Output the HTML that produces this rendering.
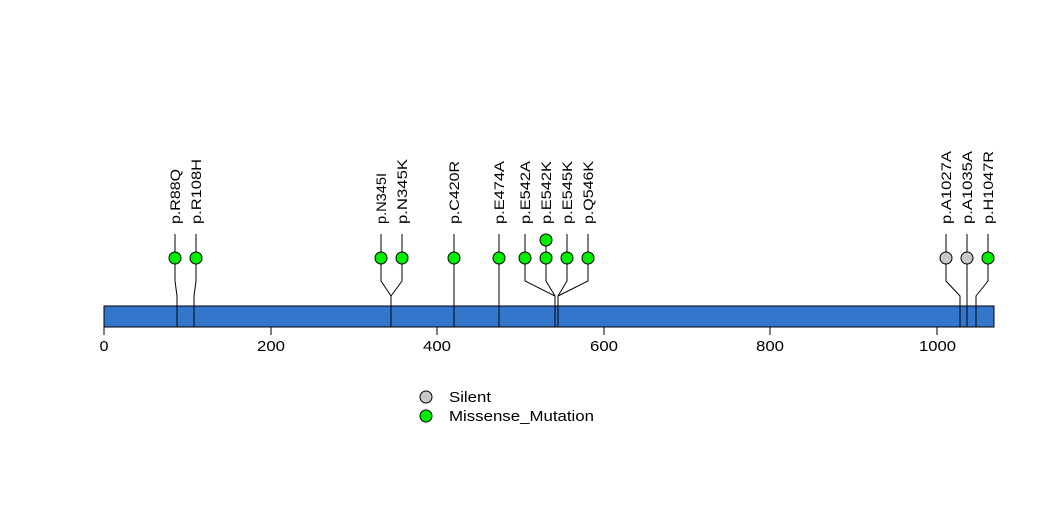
<!DOCTYPE html>
<html><head><style>body{margin:0;background:#fff}</style></head><body>
<svg width="1047" height="524" xmlns="http://www.w3.org/2000/svg" font-family="Liberation Sans, sans-serif">
<rect x="104" y="306" width="890" height="21" fill="#3377cc" stroke="#000" stroke-width="1"/>
<g stroke="#000" stroke-width="1" fill="none">
<line x1="104" y1="327" x2="937" y2="327"/>
<line x1="104" y1="327" x2="104" y2="335"/><line x1="271" y1="327" x2="271" y2="335"/><line x1="437" y1="327" x2="437" y2="335"/><line x1="604" y1="327" x2="604" y2="335"/><line x1="770" y1="327" x2="770" y2="335"/><line x1="937" y1="327" x2="937" y2="335"/>
<polyline points="175,234 175,281 177,296 177,327"/>
<polyline points="196,234 196,281 194,296 194,327"/>
<polyline points="381,234 381,281 391,296 391,327"/>
<polyline points="402,234 402,281 391,296"/>
<polyline points="454,234 454,327"/>
<polyline points="499,234 499,327"/>
<polyline points="525,234 525,281 555,296 555,327"/>
<polyline points="546,234 546,281 555,296"/>
<polyline points="567,234 567,281 558,296 558,327"/>
<polyline points="588,234 588,281 558,296"/>
<polyline points="946,234 946,281 960,296 960,327"/>
<polyline points="967,234 967,327"/>
<polyline points="988,234 988,281 976,296 976,327"/>
</g>
<g stroke="#000" stroke-width="1" fill="#00ee00">
<circle cx="175" cy="258" r="6"/><circle cx="196" cy="258" r="6"/><circle cx="381" cy="258" r="6"/><circle cx="402" cy="258" r="6"/><circle cx="454" cy="258" r="6"/><circle cx="499" cy="258" r="6"/><circle cx="525" cy="258" r="6"/><circle cx="546" cy="258" r="6"/><circle cx="546" cy="240" r="6"/><circle cx="567" cy="258" r="6"/><circle cx="588" cy="258" r="6"/><circle cx="988" cy="258" r="6"/>
<circle cx="946" cy="258" r="6" fill="#c8c8c8"/><circle cx="967" cy="258" r="6" fill="#c8c8c8"/>
<circle cx="426" cy="397" r="6" fill="#c8c8c8"/><circle cx="426" cy="416" r="6"/>
</g>
<g font-size="14" fill="#000" lengthAdjust="spacingAndGlyphs">
<text transform="translate(180,224) rotate(-90)" textLength="55" lengthAdjust="spacingAndGlyphs">p.R88Q</text>
<text transform="translate(201,224) rotate(-90)" textLength="65" lengthAdjust="spacingAndGlyphs">p.R108H</text>
<text transform="translate(386,224) rotate(-90)" textLength="51" lengthAdjust="spacingAndGlyphs">p.N345I</text>
<text transform="translate(407,224) rotate(-90)" textLength="65" lengthAdjust="spacingAndGlyphs">p.N345K</text>
<text transform="translate(459,224) rotate(-90)" textLength="63" lengthAdjust="spacingAndGlyphs">p.C420R</text>
<text transform="translate(504,224) rotate(-90)" textLength="63" lengthAdjust="spacingAndGlyphs">p.E474A</text>
<text transform="translate(530,224) rotate(-90)" textLength="63" lengthAdjust="spacingAndGlyphs">p.E542A</text>
<text transform="translate(551,224) rotate(-90)" textLength="63" lengthAdjust="spacingAndGlyphs">p.E542K</text>
<text transform="translate(572,224) rotate(-90)" textLength="63" lengthAdjust="spacingAndGlyphs">p.E545K</text>
<text transform="translate(593,224) rotate(-90)" textLength="63" lengthAdjust="spacingAndGlyphs">p.Q546K</text>
<text transform="translate(951,224) rotate(-90)" textLength="73" lengthAdjust="spacingAndGlyphs">p.A1027A</text>
<text transform="translate(972,224) rotate(-90)" textLength="73" lengthAdjust="spacingAndGlyphs">p.A1035A</text>
<text transform="translate(993,224) rotate(-90)" textLength="73" lengthAdjust="spacingAndGlyphs">p.H1047R</text>
</g>
<g font-size="15" fill="#000">
<text x="99.5" y="351" textLength="9" lengthAdjust="spacingAndGlyphs">0</text>
<text x="257" y="351" textLength="28" lengthAdjust="spacingAndGlyphs">200</text>
<text x="423" y="351" textLength="28" lengthAdjust="spacingAndGlyphs">400</text>
<text x="590" y="351" textLength="28" lengthAdjust="spacingAndGlyphs">600</text>
<text x="756" y="351" textLength="28" lengthAdjust="spacingAndGlyphs">800</text>
<text x="919" y="351" textLength="37" lengthAdjust="spacingAndGlyphs">1000</text>
</g>
<g font-size="15" fill="#000">
<text x="449" y="402" textLength="42" lengthAdjust="spacingAndGlyphs">Silent</text>
<text x="449" y="421" textLength="145" lengthAdjust="spacingAndGlyphs">Missense_Mutation</text>
</g>
</svg>
</body></html>
